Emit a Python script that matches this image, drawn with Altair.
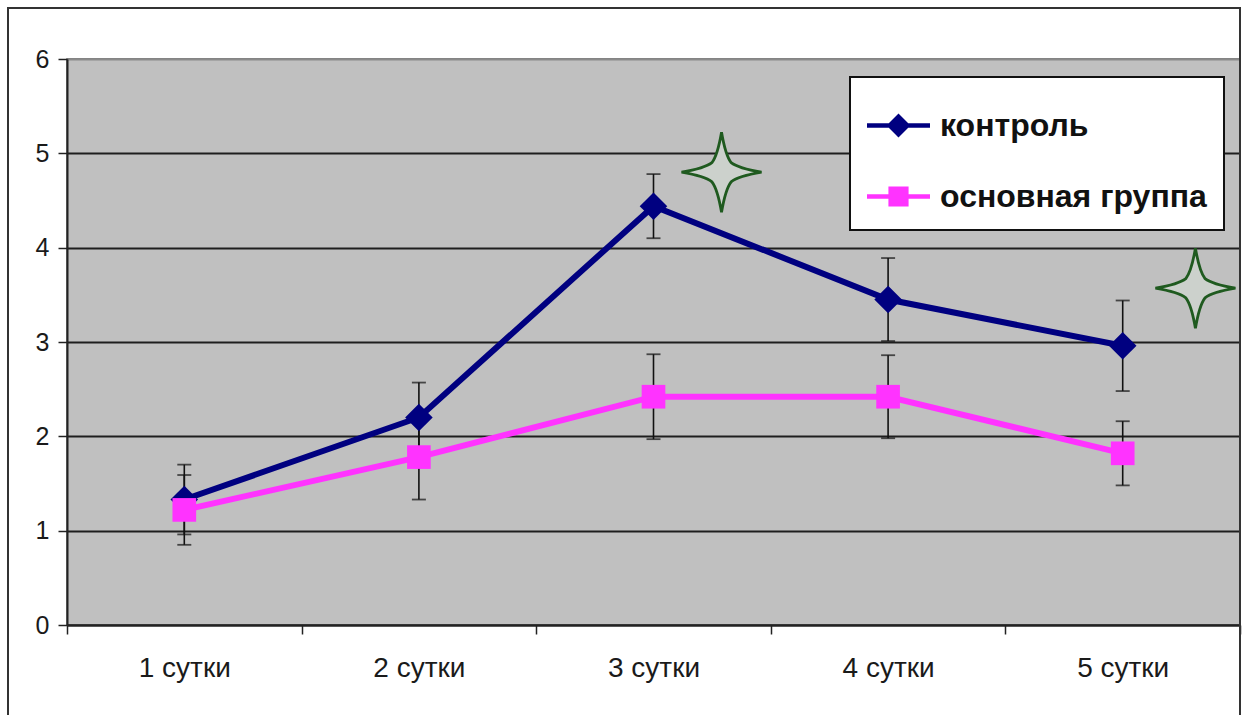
import altair as alt
import pandas as pd

# Days of observation and the two series (mean ± error)
days = ["1 сутки", "2 сутки", "3 сутки", "4 сутки", "5 сутки"]
series_names = ["контроль", "основная группа"]

control = [1.33, 2.20, 4.44, 3.45, 2.96]
control_err = [0.37, 0.37, 0.34, 0.44, 0.48]

main_group = [1.22, 1.78, 2.42, 2.42, 1.82]
main_err = [0.37, 0.45, 0.45, 0.44, 0.34]

# Significance markers (day position on a 1..5 scale, value)
star_x = [3.29, 5.31]
star_y = [4.80, 3.57]

NAVY = "#000080"
PINK = "#ff33ff"
PLOT_BG = "#c0c0c0"

rows = []
for name, vals, errs in [(series_names[0], control, control_err),
                         (series_names[1], main_group, main_err)]:
    for d, v, e in zip(days, vals, errs):
        rows.append({"series": name, "day": d, "value": v,
                     "lo": v - e, "hi": v + e})
df = pd.DataFrame(rows)
stars = pd.DataFrame({"x": star_x, "y": star_y})

x_enc = alt.X(
    "day:N",
    sort=days,
    scale=alt.Scale(type="band", paddingInner=0, paddingOuter=0),
    axis=alt.Axis(
        title=None, labelAngle=0, tickBand="extent", tickSize=9,
        tickColor="#222", tickWidth=1.5, domainColor="#222", domainWidth=2,
        labelFont="Liberation Sans", labelFontSize=28, labelColor="#1a1a1a",
        labelPadding=20, grid=False,
    ),
)
y_scale = alt.Scale(domain=[0, 6], nice=False, zero=True)
y_axis = alt.Axis(
    title=None, values=[0, 1, 2, 3, 4, 5, 6], format="d", tickSize=9,
    tickColor="#222", tickWidth=1.5, domainColor="#222", domainWidth=2,
    labelFont="Liberation Sans", labelFontSize=25, labelColor="#1a1a1a",
    labelPadding=9, grid=True, gridWidth=2,
    gridColor={"condition": {"test": "datum.value >= 6", "value": "#8a8a8a"},
               "value": "#1e1e1e"},
)

base = alt.Chart(df)

err_rule = base.mark_rule(color="#111", strokeWidth=1.6).encode(
    x=x_enc, y=alt.Y("lo:Q", scale=y_scale, axis=y_axis), y2="hi:Q")
err_lo = base.mark_tick(color="#111", thickness=1.8, size=14).encode(
    x=x_enc, y=alt.Y("lo:Q", scale=y_scale))
err_hi = base.mark_tick(color="#111", thickness=1.8, size=14).encode(
    x=x_enc, y=alt.Y("hi:Q", scale=y_scale))


def series_layers(name, color, shape, size):
    d = base.transform_filter(alt.datum.series == name)
    line = d.mark_line(color=color, strokeWidth=6).encode(
        x=x_enc, y=alt.Y("value:Q", scale=y_scale))
    pts = d.mark_point(filled=True, color=color, shape=shape, size=size,
                       opacity=1).encode(
        x=x_enc, y=alt.Y("value:Q", scale=y_scale))
    return [line, pts]


# Legend-only layer: symbols are a line with the series marker on it
legend_paths = [
    "M-1,-0.075H1V0.075H-1Z M0,-0.38L0.38,0L0,0.38L-0.38,0Z",
    "M-1,-0.075H1V0.075H-1Z M-0.32,-0.32H0.32V0.32H-0.32Z",
]
legend_layer = base.transform_filter("false").mark_point(
    filled=True, opacity=1).encode(
    color=alt.Color("series:N",
                    scale=alt.Scale(domain=series_names, range=[NAVY, PINK]),
                    legend=alt.Legend(
                        title=None, orient="none", legendX=783, legendY=18,
                        fillColor="white", strokeColor="#111", padding=17,
                        symbolSize=3969, symbolStrokeWidth=0,
                        labelFont="Liberation Sans", labelFontSize=32,
                        labelFontWeight="bold", labelColor="#111",
                        labelOffset=10, rowPadding=23, labelLimit=400)),
    shape=alt.Shape("series:N",
                    scale=alt.Scale(domain=series_names, range=legend_paths)),
)

star_path = ("M0,-1 Q0.1,-0.42 0.24,-0.24 Q0.42,-0.1 1,0 "
             "Q0.42,0.1 0.24,0.24 Q0.1,0.42 0,1 "
             "Q-0.1,0.42 -0.24,0.24 Q-0.42,0.1 -1,0 "
             "Q-0.42,-0.1 -0.24,-0.24 Q-0.1,-0.42 0,-1Z")
star_layer = alt.Chart(stars).mark_point(
    shape=star_path, size=6400, filled=True, fill="#ccd1cc",
    stroke="#1f5a1f", strokeWidth=2.8, opacity=1).encode(
    x=alt.X("x:Q", scale=alt.Scale(domain=[0.5, 5.5], nice=False, zero=False),
            axis=None),
    y=alt.Y("y:Q", scale=y_scale),
)

# Outer frame around the whole figure
frame = alt.Chart(pd.DataFrame({"k": [0]})).mark_rect(
    fill="transparent", stroke="#333", strokeWidth=2).encode(
    x=alt.value(-59), x2=alt.value(1173), y=alt.value(-51), y2=alt.value(700))

layers = [err_rule, err_lo, err_hi]
layers += series_layers(series_names[0], NAVY, "diamond", 760)
layers += series_layers(series_names[1], PINK, "square", 560)
layers += [legend_layer]

main_chart = alt.layer(*layers)

chart = alt.layer(main_chart, star_layer, frame).resolve_scale(
    x="independent"
).properties(
    width=1173, height=566,
    padding={"left": 67, "top": 59, "right": 3, "bottom": 90},
    autosize=alt.AutoSizeParams(type="none"),
    background="white",
    view=alt.ViewBackground(fill=PLOT_BG, stroke="#555", strokeWidth=1.5),
).configure_view(
    fill=PLOT_BG, stroke="#555", strokeWidth=1.5
).configure_legend(strokeWidth=2)

chart.save("out.html", embed_options={"renderer": "svg", "actions": False})
